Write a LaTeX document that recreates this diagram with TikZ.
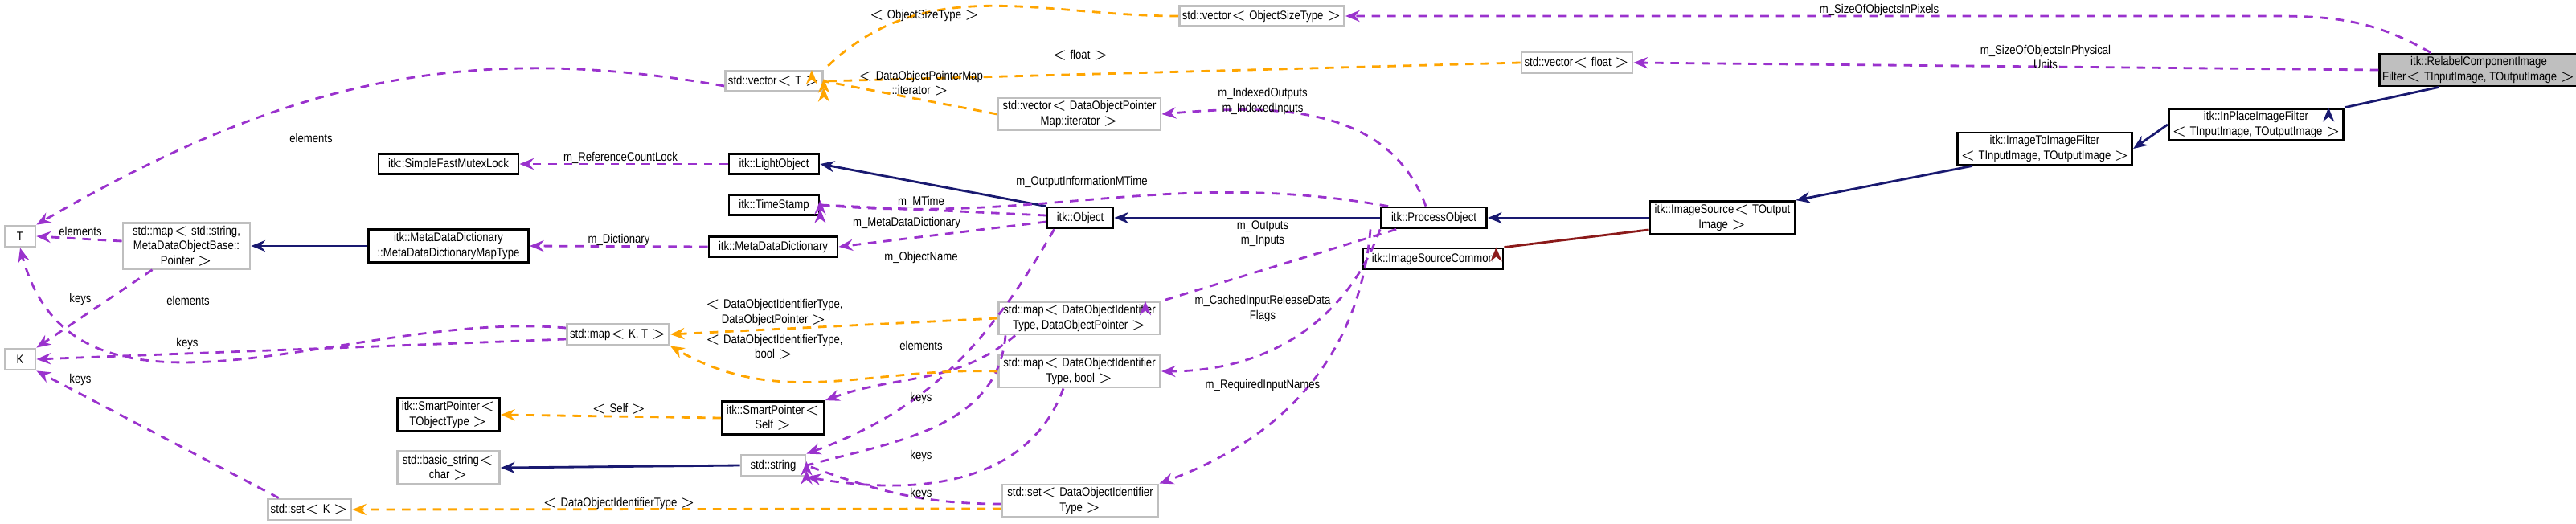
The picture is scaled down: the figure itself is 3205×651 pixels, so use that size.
\documentclass[tikz,border=0pt]{standalone}
\usepackage{fontspec}
\setmainfont[FakeStretch=0.85]{Liberation Sans}
\usetikzlibrary{positioning,arrows.meta}
\definecolor{dxNavy}{RGB}{25,25,112}
\definecolor{dxPurple}{RGB}{154,50,205}
\definecolor{dxOrange}{RGB}{255,165,0}
\definecolor{dxRed}{RGB}{139,26,26}
\definecolor{dxGray}{RGB}{191,191,191}
\definecolor{dxFill}{RGB}{191,191,191}
\tikzset{
    base/.style={font=\fontsize{4.4pt}{5.2pt}\selectfont, align=center},
    cls/.style={base, rectangle, draw=black, thick, fill=white, inner sep=1pt},
    ext/.style={cls, draw=dxGray},
    focus/.style={cls, fill=dxFill},
    inherit/.style={-{Stealth[length=5pt,width=4pt]}, dxNavy, thick},
    usage/.style={-{Stealth[length=5pt,width=4pt]}, dxPurple, thick, dash pattern=on 3pt off 2.5pt},
    templ/.style={-{Stealth[length=5pt,width=4pt]}, dxOrange, thick, dash pattern=on 3pt off 2.5pt},
    tag/.style={base}
}

\begin{document}
\begin{tikzpicture}[x=0.01cm, y=-0.01cm]
  \useasboundingbox (0,0) rectangle (3205,651);

  % Filter chain
  \node[focus, minimum width=2.41cm, minimum height=0.40cm] (relabel) at (3084,87) {itk::RelabelComponentImage\\Filter$<$ TInputImage, TOutputImage $>$};
  \node[cls, minimum width=2.12cm, minimum height=0.39cm] (inplace) at (2807,155) {itk::InPlaceImageFilter\\$<$ TInputImage, TOutputImage $>$};
  \node[cls, minimum width=2.12cm, minimum height=0.40cm] (imtoim) at (2544,185) {itk::ImageToImageFilter\\$<$ TInputImage, TOutputImage $>$};
  \node[cls, minimum width=1.80cm, minimum height=0.41cm] (imsrc) at (2143,271) {itk::ImageSource$<$ TOutput\\Image $>$};
  \node[cls, minimum width=1.74cm, minimum height=0.26cm] (imsrccommon) at (1783,322) {itk::ImageSourceCommon};
  \node[cls, minimum width=1.31cm, minimum height=0.26cm] (procobj) at (1784,271) {itk::ProcessObject};
  \node[cls, minimum width=0.82cm, minimum height=0.26cm] (object) at (1344,271) {itk::Object};

  % Containers
  \node[ext, minimum width=2.00cm, minimum height=0.25cm] (vecsize) at (1570,20) {std::vector$<$ ObjectSizeType $>$};
  \node[ext, minimum width=1.34cm, minimum height=0.26cm] (vecfloat) at (1962,78) {std::vector$<$ float $>$};
  \node[ext, minimum width=2.02cm, minimum height=0.40cm] (veciter) at (1343,142) {std::vector$<$ DataObjectPointer\\Map::iterator $>$};
  \node[ext, minimum width=1.16cm, minimum height=0.25cm] (vect) at (963,101) {std::vector$<$ T $>$};
  \node[cls, minimum width=1.74cm, minimum height=0.25cm] (mutex) at (558,204) {itk::SimpleFastMutexLock};
  \node[cls, minimum width=1.12cm, minimum height=0.25cm] (light) at (963,204) {itk::LightObject};
  \node[cls, minimum width=1.12cm, minimum height=0.25cm] (stamp) at (963,255) {itk::TimeStamp};
  \node[cls, minimum width=1.60cm, minimum height=0.25cm] (mdd) at (962,307) {itk::MetaDataDictionary};
  \node[cls, minimum width=1.99cm, minimum height=0.41cm] (mddmap) at (558,306) {itk::MetaDataDictionary\\::MetaDataDictionaryMapType};
  \node[ext, minimum width=1.58cm, minimum height=0.55cm] (mapstr) at (232,306) {std::map$<$ std::string,\\MetaDataObjectBase::\\Pointer $>$};
  \node[ext, minimum width=0.38cm, minimum height=0.26cm] (tt) at (25,294) {T};
  \node[ext, minimum width=0.38cm, minimum height=0.26cm] (kk) at (25,447) {K};
  \node[ext, minimum width=1.22cm, minimum height=0.26cm] (mapkt) at (769,416) {std::map$<$ K, T $>$};
  \node[ext, minimum width=2.01cm, minimum height=0.40cm] (mapptr) at (1343,396) {std::map$<$ DataObjectIdentifier\\Type, DataObjectPointer $>$};
  \node[ext, minimum width=2.01cm, minimum height=0.40cm] (mapbool) at (1343,462) {std::map$<$ DataObjectIdentifier\\Type, bool $>$};
  \node[cls, minimum width=1.27cm, minimum height=0.41cm] (sptype) at (558,516) {itk::SmartPointer$<$\\TObjectType $>$};
  \node[cls, minimum width=1.27cm, minimum height=0.41cm] (spself) at (962,520) {itk::SmartPointer$<$\\Self $>$};
  \node[ext, minimum width=1.27cm, minimum height=0.41cm] (bstr) at (558,582) {std::basic\_string$<$\\char $>$};
  \node[ext, minimum width=0.80cm, minimum height=0.26cm] (str) at (962,579) {std::string};
  \node[ext, minimum width=0.97cm, minimum height=0.26cm] (setk) at (385,634) {std::set$<$ K $>$};
  \node[ext, minimum width=1.94cm, minimum height=0.40cm] (setid) at (1344,623) {std::set$<$ DataObjectIdentifier\\Type $>$};

  % Inheritance
  \draw[inherit] (relabel.south west) ++(75,0) coordinate (r1) -- (inplace.north east) ++(-20,0);
  \draw[inherit] (inplace.west) -- (imtoim.east);
  \draw[inherit] (imtoim.south west) ++(20,0) -- (imsrc.north east);
  \draw[inherit] (imsrc.west) -- (procobj.east);
  \draw[inherit, dxRed] (imsrc.south west) ++(0,-7) -- (imsrccommon.north east) ++(-10,0);
  \draw[inherit] (procobj.west) -- (object.east);
  \draw[inherit] (object.north west) -- (light.east);
  \draw[inherit] (mddmap.west) -- (mapstr.east);
  \draw[inherit] (str.west) -- (bstr.east);

  % Members
  \draw[usage] (relabel.north west) ++(65,0) to[out=150,in=0] (2830,20) -- (vecsize.east);
  \draw[usage] (relabel.west) -- (vecfloat.east);
  \draw[usage] (procobj.north) ++(-10,0) to[out=110,in=5] (veciter.east);
  \draw[usage] (procobj.north west) ++(10,0) to[out=170,in=-5] (stamp.east) ++(0,-6);
  \draw[usage] (object.west) ++(0,-3) -- (stamp.east) ++(0,5);
  \draw[usage] (object.west) ++(0,5) -- (mdd.east);
  \draw[usage] (object.south west) ++(10,0) to[out=240,in=20] (str.north east);
  \draw[usage] (procobj.south west) ++(20,0) -- (mapptr.north east) ++(-20,0);
  \draw[usage] (procobj.south west) ++(0,0) to[out=250,in=0] (mapbool.east);
  \draw[usage] (procobj.south west) ++(-12,0) to[out=265,in=20] (setid.north east);
  \draw[usage] (light.west) -- (mutex.east);
  \draw[usage] (mdd.west) -- (mddmap.east);
  \draw[usage] (vect.west) ++(0,6) to[out=170,in=30] (tt.north east);
  \draw[usage] (mapstr.west) ++(0,-6) -- (tt.east);
  \draw[usage] (mapstr.south west) ++(38,0) -- (kk.north east);
  \draw[usage] (mapkt.west) ++(0,-8) to[out=175,in=-75] (tt.south);
  \draw[usage] (mapkt.west) ++(0,6) -- (kk.east);
  \draw[usage] (setk.north west) ++(15,0) -- (kk.south east);
  \draw[usage] (mapptr.south west) ++(22,0) to[out=220,in=20] (spself.north east);
  \draw[usage] (mapptr.south west) ++(10,0) to[out=265,in=15] (str.east) ++(0,-5);
  \draw[usage] (mapbool.south) ++(-20,0) to[out=250,in=-10] (str.south east);
  \draw[usage] (setid.west) ++(0,4) to[out=180,in=-20] (str.east) ++(0,6);

  % Template instances
  \draw[templ] (vecsize.west) to[out=180,in=45] (vect.north east) ++(-15,0);
  \draw[templ] (vecfloat.west) -- (vect.east) ++(0,-3);
  \draw[templ] (veciter.west) -- (vect.east) ++(0,8);
  \draw[templ] (mapptr.west) -- (mapkt.east);
  \draw[templ] (mapbool.west) to[out=178,in=-30] (mapkt.south east);
  \draw[templ] (spself.west) -- (sptype.east);
  \draw[templ] (setid.west) ++(0,10) -- (setk.east);

  % Labels
  \node[tag] (l1) at (2338,12) {m\_SizeOfObjectsInPixels};
  \node[tag] (l2) at (2545,71) {m\_SizeOfObjectsInPhysical\\Units};
  \node[tag] (l3) at (1571,126) {m\_IndexedOutputs\\m\_IndexedInputs};
  \node[tag] (l4) at (1346,226) {m\_OutputInformationMTime};
  \node[tag] (l5) at (1146,251) {m\_MTime};
  \node[tag] (l6) at (1128,277) {m\_MetaDataDictionary};
  \node[tag] (l7) at (1146,320) {m\_ObjectName};
  \node[tag] (l8) at (1571,291) {m\_Outputs\\m\_Inputs};
  \node[tag] (l9) at (1571,384) {m\_CachedInputReleaseData\\Flags};
  \node[tag] (l10) at (1571,479) {m\_RequiredInputNames};
  \node[tag] (l11) at (1146,430) {elements};
  \node[tag] (l12) at (1146,495) {keys};
  \node[tag] (l13) at (1146,567) {keys};
  \node[tag] (l14) at (1146,614) {keys};
  \node[tag] (l15) at (1150,19) {$<$ ObjectSizeType $>$};
  \node[tag] (l16) at (1344,69) {$<$ float $>$};
  \node[tag] (l17) at (1145,104) {$<$ DataObjectPointerMap\\::iterator $>$};
  \node[tag] (l18) at (387,172) {elements};
  \node[tag] (l19) at (772,196) {m\_ReferenceCountLock};
  \node[tag] (l20) at (100,288) {elements};
  \node[tag] (l21) at (770,298) {m\_Dictionary};
  \node[tag] (l22) at (100,372) {keys};
  \node[tag] (l23) at (234,374) {elements};
  \node[tag] (l24) at (963,389) {$<$ DataObjectIdentifierType,\\DataObjectPointer $>$};
  \node[tag] (l25) at (233,427) {keys};
  \node[tag] (l26) at (963,432) {$<$ DataObjectIdentifierType,\\bool $>$};
  \node[tag] (l27) at (100,472) {keys};
  \node[tag] (l28) at (770,509) {$<$ Self $>$};
  \node[tag] (l29) at (770,626) {$<$ DataObjectIdentifierType $>$};
\end{tikzpicture}
\end{document}
